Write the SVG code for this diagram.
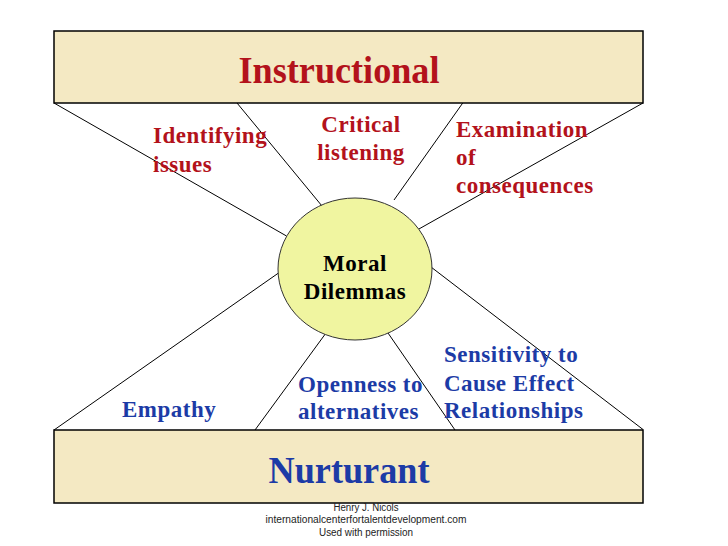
<svg xmlns="http://www.w3.org/2000/svg" width="728" height="546" viewBox="0 0 728 546">
<style>
.band{fill:#F4E9C3;stroke:#000;stroke-width:1.5}
.ln{stroke:#000;stroke-width:1;fill:none}
.hd{font-family:"Liberation Serif","Times New Roman",serif;font-weight:bold;font-size:37px}
.lb{font-family:"Liberation Serif","Times New Roman",serif;font-weight:bold;font-size:23px;letter-spacing:0.5px}
.red{fill:#B3121B}
.blue{fill:#1C3BA6}
.ft{font-family:"Liberation Sans",Arial,sans-serif;font-size:10px;fill:#222}
</style>
<rect width="728" height="546" fill="#fff"/>
<g id="connectors">
<line class="ln" x1="54" y1="103" x2="286.5" y2="236"/>
<line class="ln" x1="237" y1="103" x2="322" y2="206"/>
<line class="ln" x1="467" y1="97" x2="394" y2="200"/>
<line class="ln" x1="643" y1="103" x2="418" y2="229.5"/>
<line class="ln" x1="54" y1="430" x2="278.5" y2="273"/>
<line class="ln" x1="255" y1="430" x2="326" y2="333"/>
<line class="ln" x1="455" y1="430" x2="388" y2="333"/>
<line class="ln" x1="643" y1="429.5" x2="431" y2="267"/>
</g>
<g id="instructional">
<rect class="band" x="54" y="31" width="589" height="72"/>
<text class="hd red" x="339" y="83" text-anchor="middle" textLength="201" lengthAdjust="spacingAndGlyphs">Instructional</text>
</g>
<g id="nurturant">
<rect class="band" x="54" y="430" width="589" height="73"/>
<text class="hd blue" x="349" y="483" text-anchor="middle" textLength="161" lengthAdjust="spacingAndGlyphs">Nurturant</text>
</g>
<g id="moral-dilemmas">
<ellipse cx="355" cy="269" rx="77" ry="71" fill="#F0F5A0" stroke="#333" stroke-width="1"/>
<text class="lb" x="355" y="271" text-anchor="middle" fill="#000">Moral</text>
<text class="lb" x="355" y="299" text-anchor="middle" fill="#000">Dilemmas</text>
</g>
<g id="identifying-issues">
<text class="lb red" x="153" y="143">Identifying</text>
<text class="lb red" x="153" y="172">issues</text>
</g>
<g id="critical-listening">
<text class="lb red" x="361" y="132" text-anchor="middle">Critical</text>
<text class="lb red" x="361" y="160" text-anchor="middle">listening</text>
</g>
<g id="examination">
<text class="lb red" x="456" y="137">Examination</text>
<text class="lb red" x="456" y="165">of</text>
<text class="lb red" x="456" y="193">consequences</text>
</g>
<g id="empathy">
<text class="lb blue" x="122" y="417">Empathy</text>
</g>
<g id="openness">
<text class="lb blue" x="298" y="392">Openness to</text>
<text class="lb blue" x="298" y="419">alternatives</text>
</g>
<g id="sensitivity">
<text class="lb blue" x="444" y="362">Sensitivity to</text>
<text class="lb blue" x="444" y="391">Cause Effect</text>
<text class="lb blue" x="444" y="418">Relationships</text>
</g>
<g id="credit">
<text class="ft" x="366" y="511" text-anchor="middle" textLength="65" lengthAdjust="spacingAndGlyphs">Henry J. Nicols</text>
<text class="ft" x="366" y="523" text-anchor="middle" textLength="201" lengthAdjust="spacingAndGlyphs">internationalcenterfortalentdevelopment.com</text>
<text class="ft" x="366" y="536" text-anchor="middle" textLength="94" lengthAdjust="spacingAndGlyphs">Used with permission</text>
</g>
</svg>
